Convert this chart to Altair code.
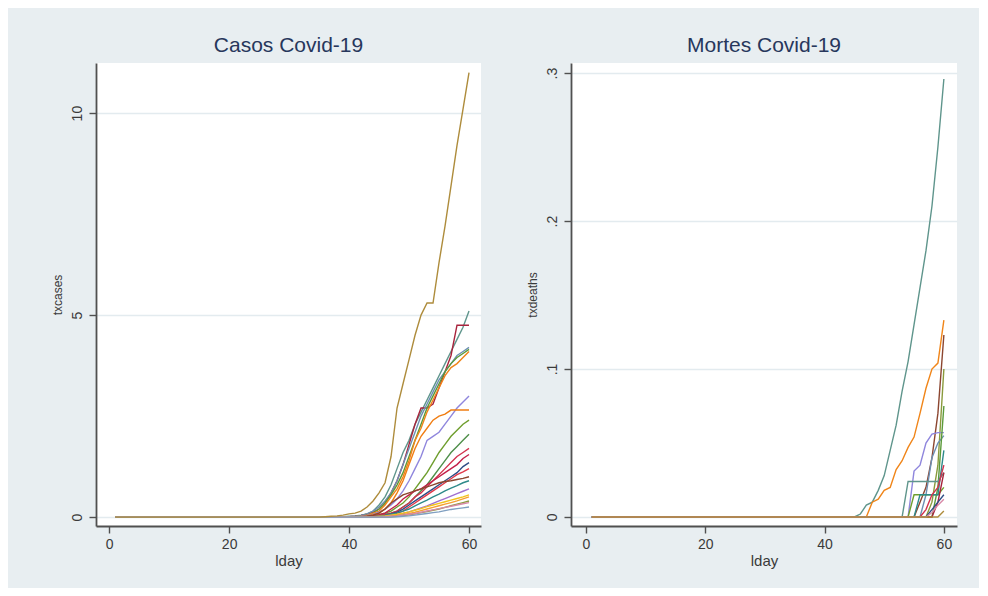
import altair as alt
import pandas as pd

days = list(range(1, 61))
cases_start_day = 36
deaths_start_day = 44

x_ticks = [0, 20, 40, 60]
cases_ticks = [0, 5, 10]
cases_tick_labels = ["0", "5", "10"]
deaths_ticks = [0, 0.1, 0.2, 0.3]
deaths_tick_labels = ["0", ".1", ".2", ".3"]

# ---- Casos (values for days 36..60; zero before) ----
cases_teal = [0, 0, 0, 0.01, 0.02, 0.03, 0.05, 0.08, 0.15, 0.3, 0.5, 0.8, 1.2, 1.6, 1.9, 2.3, 2.6, 2.9, 3.2, 3.5, 3.8, 4.1, 4.4, 4.7, 5.1]
cases_maroon = [0, 0, 0, 0, 0.01, 0.02, 0.04, 0.07, 0.12, 0.2, 0.35, 0.6, 0.9, 1.3, 1.8, 2.3, 2.7, 2.7, 2.8, 3.2, 3.6, 4.0, 4.75, 4.75, 4.75]
cases_bluegray = [0, 0, 0, 0, 0.01, 0.02, 0.04, 0.08, 0.15, 0.25, 0.4, 0.6, 0.9, 1.3, 1.7, 2.1, 2.5, 2.8, 3.1, 3.4, 3.6, 3.8, 4.0, 4.1, 4.2]
cases_green = [0, 0, 0, 0, 0, 0.01, 0.03, 0.05, 0.1, 0.2, 0.35, 0.55, 0.8, 1.1, 1.5, 1.9, 2.3, 2.7, 3.0, 3.3, 3.6, 3.8, 3.95, 4.05, 4.15]
cases_orange = [0, 0, 0, 0, 0, 0.01, 0.02, 0.05, 0.1, 0.15, 0.3, 0.5, 0.7, 1.0, 1.4, 1.9, 2.2, 2.6, 2.9, 3.2, 3.5, 3.7, 3.8, 3.95, 4.1]
cases_lavender = [0, 0, 0, 0, 0, 0.01, 0.02, 0.04, 0.07, 0.12, 0.2, 0.3, 0.45, 0.65, 0.9, 1.2, 1.5, 1.9, 2.0, 2.1, 2.3, 2.5, 2.7, 2.85, 3.0]
cases_orange2 = [0, 0, 0, 0, 0, 0, 0.01, 0.03, 0.06, 0.1, 0.2, 0.35, 0.6, 0.9, 1.3, 1.7, 2.0, 2.2, 2.4, 2.5, 2.55, 2.65, 2.65, 2.65, 2.65]
cases_green2 = [0, 0, 0, 0, 0, 0, 0, 0.01, 0.03, 0.06, 0.1, 0.15, 0.25, 0.35, 0.5, 0.7, 0.9, 1.1, 1.35, 1.6, 1.8, 2.0, 2.15, 2.3, 2.4]
cases_green3 = [0, 0, 0, 0, 0, 0, 0, 0.01, 0.02, 0.04, 0.07, 0.1, 0.15, 0.25, 0.35, 0.5, 0.65, 0.8, 1.0, 1.2, 1.4, 1.6, 1.75, 1.9, 2.05]
cases_red = [0, 0, 0, 0, 0, 0, 0, 0, 0.01, 0.03, 0.06, 0.1, 0.15, 0.25, 0.35, 0.5, 0.6, 0.75, 0.9, 1.05, 1.2, 1.35, 1.5, 1.6, 1.7]
cases_cranberry = [0, 0, 0, 0, 0, 0, 0, 0.01, 0.03, 0.06, 0.1, 0.2, 0.3, 0.45, 0.55, 0.65, 0.7, 0.8, 0.9, 1.0, 1.1, 1.2, 1.3, 1.45, 1.55]
cases_navy = [0, 0, 0, 0, 0, 0, 0, 0, 0.01, 0.02, 0.04, 0.08, 0.12, 0.2, 0.3, 0.4, 0.5, 0.6, 0.7, 0.8, 0.9, 1.0, 1.1, 1.25, 1.35]
cases_red2 = [0, 0, 0, 0, 0, 0, 0, 0, 0, 0.01, 0.03, 0.06, 0.1, 0.15, 0.25, 0.35, 0.45, 0.55, 0.65, 0.75, 0.85, 0.95, 1.05, 1.12, 1.2]
cases_brown = [0, 0, 0, 0, 0, 0, 0.01, 0.02, 0.05, 0.1, 0.2, 0.35, 0.45, 0.55, 0.6, 0.65, 0.7, 0.75, 0.8, 0.85, 0.88, 0.9, 0.93, 0.96, 1.0]
cases_teal2 = [0, 0, 0, 0, 0, 0, 0, 0, 0.01, 0.02, 0.04, 0.07, 0.1, 0.15, 0.2, 0.28, 0.35, 0.42, 0.5, 0.57, 0.65, 0.72, 0.78, 0.85, 0.9]
cases_purple = [0, 0, 0, 0, 0, 0, 0, 0, 0, 0.01, 0.02, 0.04, 0.06, 0.09, 0.13, 0.18, 0.23, 0.28, 0.34, 0.4, 0.46, 0.52, 0.58, 0.64, 0.7]
cases_yellow = [0, 0, 0, 0, 0, 0, 0, 0, 0.01, 0.02, 0.03, 0.05, 0.07, 0.1, 0.13, 0.17, 0.21, 0.26, 0.3, 0.34, 0.38, 0.42, 0.46, 0.5, 0.55]
cases_orange3 = [0, 0, 0, 0, 0, 0, 0, 0, 0, 0, 0.01, 0.02, 0.04, 0.06, 0.09, 0.12, 0.16, 0.2, 0.24, 0.28, 0.32, 0.36, 0.4, 0.45, 0.5]
cases_olive = [0, 0, 0, 0, 0, 0, 0, 0, 0, 0, 0, 0.01, 0.02, 0.04, 0.06, 0.08, 0.11, 0.14, 0.17, 0.2, 0.24, 0.28, 0.32, 0.36, 0.4]
cases_pink = [0, 0, 0, 0, 0, 0, 0, 0, 0, 0, 0.01, 0.02, 0.03, 0.05, 0.07, 0.09, 0.12, 0.15, 0.18, 0.21, 0.24, 0.27, 0.3, 0.33, 0.36]
cases_bluegray2 = [0, 0, 0, 0, 0, 0, 0, 0, 0, 0, 0, 0, 0.01, 0.02, 0.03, 0.05, 0.07, 0.09, 0.11, 0.13, 0.16, 0.19, 0.21, 0.23, 0.25]
cases_gold = [0.01, 0.02, 0.03, 0.05, 0.08, 0.1, 0.15, 0.25, 0.4, 0.6, 0.85, 1.5, 2.7, 3.3, 3.9, 4.5, 5.0, 5.3, 5.3, 6.3, 7.2, 8.2, 9.2, 10.1, 11.0]

# ---- Mortes (values for days 44..60; zero before) ----
deaths_teal = [0, 0, 0.002, 0.008, 0.01, 0.018, 0.028, 0.045, 0.062, 0.085, 0.105, 0.13, 0.155, 0.18, 0.21, 0.25, 0.296]
deaths_orange = [0, 0, 0, 0, 0.01, 0.012, 0.018, 0.02, 0.032, 0.038, 0.047, 0.054, 0.07, 0.087, 0.1, 0.104, 0.133]
deaths_brown = [0, 0, 0, 0, 0, 0, 0, 0, 0, 0, 0, 0, 0.01, 0.02, 0.04, 0.07, 0.123]
deaths_olive = [0, 0, 0, 0, 0, 0, 0, 0, 0, 0, 0, 0, 0, 0, 0.01, 0.035, 0.1]
deaths_lavender = [0, 0, 0, 0, 0, 0, 0, 0, 0, 0, 0, 0.031, 0.035, 0.05, 0.056, 0.057, 0.057]
deaths_bluegray = [0, 0, 0, 0, 0, 0, 0, 0, 0, 0, 0, 0, 0, 0.015, 0.04, 0.05, 0.055]
deaths_green = [0, 0, 0, 0, 0, 0, 0, 0, 0, 0, 0, 0, 0, 0, 0, 0.02, 0.075]
deaths_forest = [0, 0, 0, 0, 0, 0, 0, 0, 0, 0, 0.024, 0.024, 0.024, 0.024, 0.024, 0.024, 0.03]
deaths_green2 = [0, 0, 0, 0, 0, 0, 0, 0, 0, 0, 0, 0.015, 0.015, 0.015, 0.015, 0.015, 0.02]
deaths_teal2 = [0, 0, 0, 0, 0, 0, 0, 0, 0, 0, 0, 0, 0.015, 0.015, 0.015, 0.015, 0.045]
deaths_red = [0, 0, 0, 0, 0, 0, 0, 0, 0, 0, 0, 0, 0, 0.005, 0.015, 0.02, 0.035]
deaths_maroon = [0, 0, 0, 0, 0, 0, 0, 0, 0, 0, 0, 0, 0, 0, 0, 0.01, 0.03]
deaths_navy = [0, 0, 0, 0, 0, 0, 0, 0, 0, 0, 0, 0, 0, 0, 0.005, 0.01, 0.015]
deaths_pink = [0, 0, 0, 0, 0, 0, 0, 0, 0, 0, 0, 0, 0, 0, 0.003, 0.008, 0.012]
deaths_gold = [0, 0, 0, 0, 0, 0, 0, 0, 0, 0, 0, 0, 0, 0, 0, 0, 0.004]

cases_series = [
    ("teal", cases_teal), ("maroon", cases_maroon), ("bluegray", cases_bluegray),
    ("green", cases_green), ("orange", cases_orange), ("lavender", cases_lavender),
    ("orange2", cases_orange2), ("green2", cases_green2), ("green3", cases_green3),
    ("red", cases_red), ("cranberry", cases_cranberry), ("navy", cases_navy),
    ("red2", cases_red2), ("brown", cases_brown), ("teal2", cases_teal2),
    ("purple", cases_purple), ("yellow", cases_yellow), ("orange3", cases_orange3),
    ("olive", cases_olive), ("pink", cases_pink), ("bluegray2", cases_bluegray2),
    ("gold", cases_gold),
]
deaths_series = [
    ("teal", deaths_teal), ("orange", deaths_orange), ("brown", deaths_brown),
    ("olive", deaths_olive), ("lavender", deaths_lavender), ("bluegray", deaths_bluegray),
    ("green", deaths_green), ("forest", deaths_forest), ("green2", deaths_green2),
    ("teal2", deaths_teal2), ("red", deaths_red), ("maroon", deaths_maroon),
    ("navy", deaths_navy), ("pink", deaths_pink), ("gold", deaths_gold),
]

palette = {
    "teal": "#5f958c", "maroon": "#a8233c", "bluegray": "#6d8fb3", "green": "#5b9a3a",
    "orange": "#f08519", "lavender": "#8f86dd", "orange2": "#f07d12", "green2": "#6f9e2e",
    "green3": "#4f8f4a", "red": "#d2334f", "cranberry": "#c21f4a", "navy": "#2e4d86",
    "red2": "#e0394a", "brown": "#8c4630", "teal2": "#2e8a8a", "purple": "#a070d0",
    "yellow": "#f2c21a", "orange3": "#f5a030", "olive": "#8a9a3c", "pink": "#d88aa8",
    "bluegray2": "#7f9fc0", "gold": "#ae8c3c", "forest": "#4e8a2e",
}


def build(series, start):
    rows = []
    for order, (name, tail) in enumerate(series):
        full = [0.0] * (start - 1) + list(tail)
        for d, v in zip(days, full):
            rows.append({"series": name, "day": d, "value": v, "ord": order})
    return pd.DataFrame(rows)


def label_expr(ticks, labels):
    parts = " : ".join(
        f"abs(datum.value - {t}) < 1e-9 ? '{l}'" for t, l in zip(ticks, labels)
    )
    return parts + " : ''"


axis_style = dict(
    domainColor="#505050", domainWidth=1.8, tickColor="#505050", tickWidth=1.4,
    tickSize=7, labelFont="Liberation Sans", labelFontSize=14, labelColor="#3a3a3a",
    titleFont="Liberation Sans", titleColor="#3a3a3a", titleFontWeight="normal",
)


def panel(df, title, ytitle, ydom, yticks, ylabels, xdom, width, height):
    names = list(dict.fromkeys(df["series"]))
    return (
        alt.Chart(df)
        .mark_line(strokeWidth=1.4, clip=True)
        .encode(
            x=alt.X(
                "day:Q",
                scale=alt.Scale(domain=xdom, nice=False, zero=False),
                axis=alt.Axis(values=x_ticks, title="lday", grid=False, labelPadding=4,
                              titleFontSize=15, titlePadding=2, **axis_style),
            ),
            y=alt.Y(
                "value:Q",
                scale=alt.Scale(domain=ydom, nice=False, zero=False),
                axis=alt.Axis(values=yticks, labelExpr=label_expr(yticks, ylabels),
                              title=ytitle, grid=True, gridColor="#e3ebef", gridWidth=1.6,
                              labelAngle=-90, labelAlign="center", labelBaseline="bottom",
                              labelPadding=5, titleFontSize=12, titlePadding=6, **axis_style),
            ),
            color=alt.Color("series:N", scale=alt.Scale(domain=names, range=[palette[n] for n in names]), legend=None),
            order=alt.Order("day:Q"),
        )
        .properties(
            width=width, height=height,
            title=alt.TitleParams(title, font="Liberation Sans", fontSize=21, fontWeight="normal",
                                  color="#27375c", offset=7),
        )
    )


left = panel(build(cases_series, cases_start_day), "Casos Covid-19", "txcases",
             [-0.22, 11.24], cases_ticks, cases_tick_labels, [-2.2, 62.0], 385, 463)
right = panel(build(deaths_series, deaths_start_day), "Mortes Covid-19", "txdeaths",
              [-0.0061, 0.3068], deaths_ticks, deaths_tick_labels, [-2.5, 62.2], 386, 463)

chart = (
    alt.hconcat(left, right, spacing=45)
    .properties(padding={"left": 42, "top": 27, "right": 22, "bottom": 20})
    .configure(background="#e8eef1")
    .configure_view(fill="white", stroke=None)
)

chart.save("out.html", embed_options={"renderer": "svg", "actions": False})
